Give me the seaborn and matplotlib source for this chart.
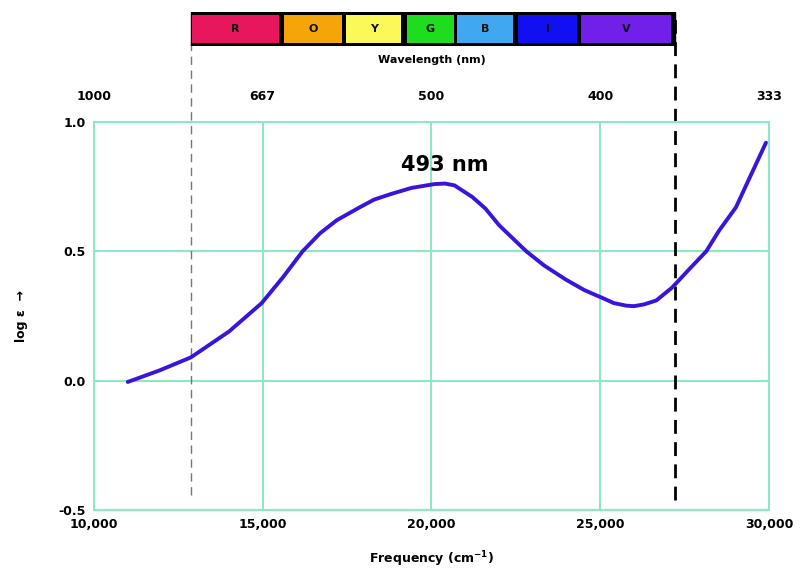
import seaborn as sns
import pandas as pd
import matplotlib.pyplot as plt
from matplotlib.patches import Rectangle

# absorption curve (frequency in cm-1, log eps)
freq = [11000, 11950, 12870, 14000, 14970, 15600, 16180, 16700, 17190, 17870,
        18300, 18760, 19400, 20090, 20400, 20680, 21210, 21600, 22010, 22810,
        23340, 23990, 24530, 25060, 25400, 25770, 26000, 26300, 26660, 27130,
        27630, 28140, 28520, 29020, 29410, 29910]
log_eps = [-0.005, 0.04, 0.09, 0.19, 0.30, 0.40, 0.50, 0.57, 0.62, 0.67,
           0.70, 0.72, 0.745, 0.76, 0.762, 0.755, 0.71, 0.665, 0.60, 0.50,
           0.445, 0.39, 0.35, 0.32, 0.30, 0.29, 0.288, 0.295, 0.31, 0.36,
           0.43, 0.50, 0.58, 0.67, 0.78, 0.92]

x_ticks = [10000, 15000, 20000, 25000, 30000]
x_labels = ['10,000', '15,000', '20,000', '25,000', '30,000']
wl_labels = ['1000', '667', '500', '400', '333']
y_ticks = [-0.5, 0.0, 0.5, 1.0]

# spectrum band (edges in cm-1 along the same axis)
band_names = ['R', 'O', 'Y', 'G', 'B', 'I', 'V']
band_left = [12900, 15620, 17460, 19260, 20770, 22570, 24440]
band_right = [15470, 17340, 19110, 20680, 22400, 24320, 27100]
band_colors = ['#e8175d', '#f5a50a', '#fbf95a', '#1fdc1f', '#3fa8f0', '#1010f0', '#7020e8']
band_start, band_end = 12870, 27200

grid_col = '#8ee8c4'

df = pd.DataFrame({'freq': freq, 'log_eps': log_eps})

sns.set_style('white')
plt.rcParams['text.color'] = 'black'
plt.rcParams['xtick.color'] = 'black'
plt.rcParams['ytick.color'] = 'black'
plt.rcParams['axes.labelcolor'] = 'black'

fig = plt.figure(figsize=(8.01, 5.72), dpi=100)
ax = fig.add_axes([94 / 801, 1 - 510 / 572, 675 / 801, 388 / 572])

sns.lineplot(data=df, x='freq', y='log_eps', ax=ax, color='#3a14da', lw=2.8, zorder=5)

ax.set_xlim(10000, 30000)
ax.set_ylim(-0.5, 1.0)
ax.set_xticks(x_ticks)
ax.set_xticklabels(x_labels, fontweight='bold', fontsize=9)
ax.set_yticks(y_ticks)
ax.set_yticklabels([f'{v:.1f}' for v in y_ticks], fontweight='bold', fontsize=9)
ax.tick_params(length=0, pad=6)
ax.grid(True, color=grid_col, lw=1.5)
for s in ax.spines.values():
    s.set_color(grid_col)
    s.set_linewidth(1.5)

ax.set_xlabel(r'Frequency (cm$^{\mathbf{-1}}$)', fontweight='bold', fontsize=9, labelpad=13)
ax.set_ylabel('log ε  →', fontweight='bold', fontsize=9, labelpad=22)

# wavelength axis on top
top = ax.secondary_xaxis('top')
top.set_xticks(x_ticks)
top.set_xticklabels(wl_labels, fontweight='bold', fontsize=9)
top.tick_params(length=0, pad=14)
top.spines['top'].set_visible(False)

# visible region markers
ax.axvline(band_start, ymin=0.039, ymax=1.211, color='#777777', lw=1, ls=(0, (6, 4)), clip_on=False)
ax.axvline(band_end, ymin=0.026, ymax=1.284, color='black', lw=2, ls=(0, (5, 3)), clip_on=False)

ax.text(20390, 0.835, '493 nm', ha='center', va='center', fontsize=15, fontweight='bold')

# colour band above the plot
bax = fig.add_axes([94 / 801, 1 - 46 / 572, 675 / 801, 34 / 572])
bax.set_xlim(10000, 30000)
bax.set_ylim(0, 1)
bax.axis('off')
bax.add_patch(Rectangle((band_start, 0), band_end - band_start, 1, color='black'))
for name, l, r, c in zip(band_names, band_left, band_right, band_colors):
    bax.bar(l, 0.8, width=r - l, bottom=0.1, align='edge', color=c, edgecolor='none')
    bax.text((l + r) / 2, 0.5, name, ha='center', va='center', fontsize=8, fontweight='bold', color='#111111')

fig.text(432 / 801, 1 - 60 / 572, 'Wavelength (nm)', ha='center', va='center', fontsize=8, fontweight='bold')

fig.savefig('out.png', dpi=100)
